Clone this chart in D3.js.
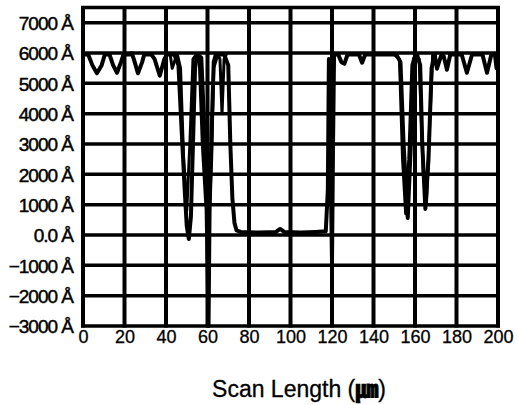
<!DOCTYPE html>
<html>
<head>
<meta charset="utf-8">
<script src="https://cdn.jsdelivr.net/npm/d3@7"></script>
<style>
  html, body { margin: 0; padding: 0; background: #fff; }
  svg { display: block; }
  text { font-family: "Liberation Sans", Arial, Helvetica, sans-serif; fill: #000; }
</style>
</head>
<body>
<svg id="chart" width="519" height="405"></svg>
<script>
// ---- data ----
const xTicks = [0, 20, 40, 60, 80, 100, 120, 140, 160, 180, 200];
const yTicks = [-3000, -2000, -1000, 0, 1000, 2000, 3000, 4000, 5000, 6000, 7000];
const yTickLabels = ["\u22123000 \u00C5", "\u22122000 \u00C5", "\u22121000 \u00C5", "0.0 \u00C5", "1000 \u00C5",
                     "2000 \u00C5", "3000 \u00C5", "4000 \u00C5", "5000 \u00C5", "6000 \u00C5", "7000 \u00C5"];
const xTitleText = "Scan Length (";
const xTitleUnit = "\u339B";
const xTitleEnd = ")";

// main scan trace: scan position (µm) and height (Å)
const scanX = [0, 2.5, 4.5, 6.7, 9, 10.5, 11.6, 12.8, 14.5, 16.4, 18.3, 19.5, 22.5, 23.5, 24.5, 26.5, 28.5, 29.5,
  33, 34.5, 37, 39.2, 40.5, 44, 46, 47.5, 49, 50, 51, 52, 53, 54, 55, 57, 58.5, 59.5, 60.5, 61, 62, 63, 64,
  68, 70, 71, 72, 73, 74, 76, 85, 93, 95, 97, 105, 112, 117, 118, 118.5, 119, 120, 120.5, 121,
  123, 124.5, 126, 127.5, 133, 134.5, 136, 151, 153, 154.5, 156.5, 158, 159.5, 161, 162.5, 163.5, 165,
  166.5, 168, 169.5, 170.6, 172.5, 173.8, 175.4, 177, 182.5, 185, 187.5, 192.5, 194.7, 196.8, 198.5, 199.3, 200];
const scanH = [5950, 5950, 5600, 5330, 5600, 5950, 5950, 5950, 5600, 5350, 5700, 5950, 5950, 6000, 5800, 5330, 5700, 5950,
  5950, 5800, 5250, 5800, 5950, 5950, 5600, 3500, 1500, 300, -130, 600, 3000, 5500, 5950, 5850, 3500, 1200, -3000, 800, 3500, 5700, 5950,
  5950, 5600, 3000, 1200, 400, 150, 100, 80, 100, 200, 100, 80, 100, 120, 1500, 5800, 4000, -900, 3000, 5950,
  5950, 5700, 5650, 5950, 5950, 5680, 5950, 5950, 5700, 3000, 560, 3000, 5800, 5950, 5600, 3000, 860,
  2500, 5500, 5950, 5480, 5900, 5900, 5450, 5950, 5950, 5350, 5950, 5950, 5350, 5950, 5950, 5500, 5950];

// overlapping repeat scans in the trench regions
const repeat1X = [55, 56, 57.5, 59, 60.5, 62, 63, 65, 66, 67, 68, 69];
const repeat1H = [5950, 5800, 3000, 1200, 200, 2500, 5500, 5950, 5800, 4000, 5800, 5950];
const repeat2X = [150, 152.5, 154, 155.5, 157, 158.5, 160, 162, 164, 165.5, 167, 168.5, 170];
const repeat2H = [5950, 5800, 2500, 700, 2500, 5600, 5950, 5800, 2000, 1000, 3500, 5950, 5950];
const repeat3X = [40, 42, 43, 44.5, 45.5, 47, 48.5, 50, 51.5, 53, 54.5];
const repeat3H = [5950, 5950, 5500, 5800, 5950, 5500, 2500, 800, 3000, 5800, 5950];

// ---- chart ----
const svg = d3.select("#chart");
const x = d3.scaleLinear().domain([0, 200]).range([83, 498]);
const y = d3.scaleLinear().domain([-3000, 7500]).range([326, 7.5]);

const g = svg.append("g");

// grid
g.selectAll(".vgrid").data(xTicks).join("line")
  .attr("x1", d => x(d)).attr("x2", d => x(d))
  .attr("y1", y(7500) - 1.5).attr("y2", y(-3000) + 1.5)
  .attr("stroke", "#000").attr("stroke-width", 4);
g.selectAll(".hgrid").data(yTicks.concat([7500])).join("line")
  .attr("x1", x(0) - 2).attr("x2", x(200) + 2)
  .attr("y1", d => y(d)).attr("y2", d => y(d))
  .attr("stroke", "#000").attr("stroke-width", 3.5);

// traces
const lineL = d3.line().x(d => x(d[0])).y(d => y(d[1]));
function drawTrace(xs, hs, w) {
  const pts = xs.map((v, i) => [v, hs[i]]);
  g.append("path").datum(pts)
    .attr("d", lineL)
    .attr("fill", "none").attr("stroke", "#000")
    .attr("stroke-width", w).attr("stroke-linejoin", "round").attr("stroke-linecap", "round");
}
drawTrace(scanX, scanH, 4);
drawTrace(repeat1X, repeat1H, 3);
drawTrace(repeat2X, repeat2H, 3);
drawTrace(repeat3X, repeat3H, 3);

// axes labels
const yAxis = d3.axisLeft(y).tickValues(yTicks).tickSize(0).tickPadding(0)
  .tickFormat((d, i) => yTickLabels[i]);
const ya = svg.append("g").attr("transform", "translate(73,0)").call(yAxis);
ya.select(".domain").remove();
ya.selectAll("text").attr("font-size", 19).attr("dy", "0.36em")
  .attr("font-family", "'Liberation Sans', Arial, sans-serif")
  .attr("letter-spacing", -1)
  .attr("fill", "#000").attr("stroke", "#000").attr("stroke-width", 0.45);

const xAxis = d3.axisBottom(x).tickValues(xTicks).tickSize(0).tickPadding(0).tickFormat(d3.format("d"));
const xa = svg.append("g").attr("transform", "translate(0,330)").call(xAxis);
xa.select(".domain").remove();
xa.selectAll("text").attr("font-size", 18).attr("dy", "0.71em")
  .attr("font-family", "'Liberation Sans', Arial, sans-serif")
  .attr("fill", "#000").attr("stroke", "#000").attr("stroke-width", 0.3);

const title = svg.append("text")
  .attr("x", 299).attr("y", 397)
  .attr("text-anchor", "middle")
  .attr("font-size", 23)
  .attr("font-family", "'Liberation Sans', Arial, sans-serif")
  .attr("stroke", "#000").attr("stroke-width", 0.3);
title.append("tspan").text(xTitleText);
title.append("tspan").attr("font-family", "'Noto Sans CJK KR', sans-serif")
  .attr("font-weight", "bold").attr("stroke-width", 1).text(xTitleUnit);
title.append("tspan").text(xTitleEnd);
</script>
</body>
</html>
